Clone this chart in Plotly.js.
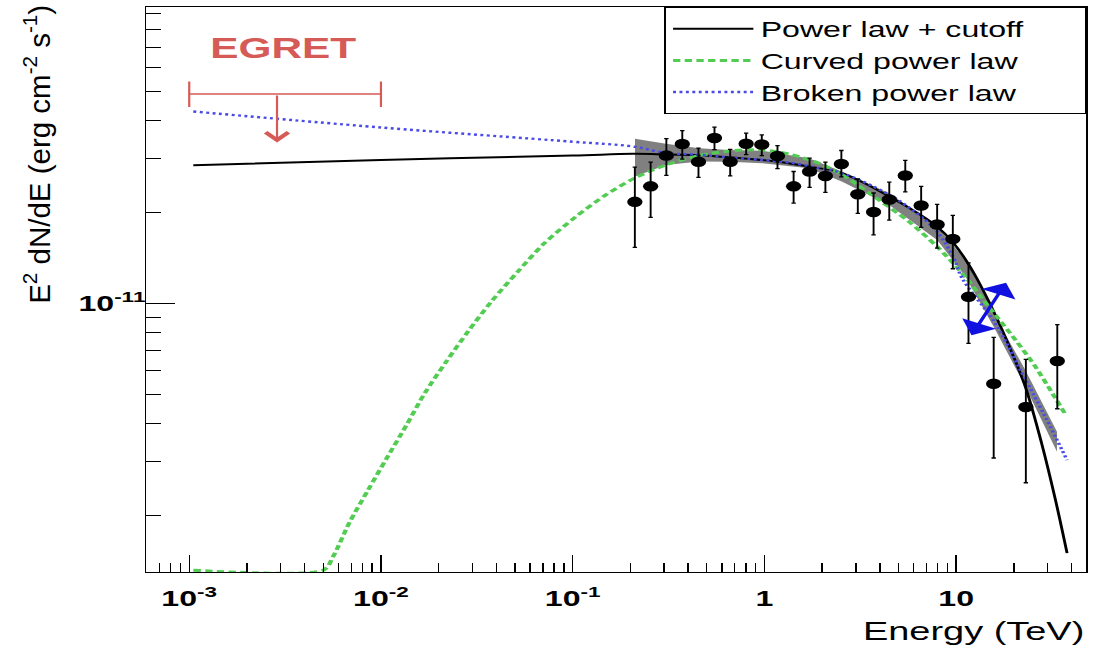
<!DOCTYPE html>
<html><head><meta charset="utf-8">
<script src="https://cdn.plot.ly/plotly-3.0.1.min.js"></script>
<style>
html,body{margin:0;padding:0;background:#fff;overflow:hidden;}
#plot{width:750px;height:648px;transform:scaleX(1.46);transform-origin:0 0;}
</style></head><body><div id="plot"></div>
<script>
const UNIT = 1e-11; // flux values below are in units of 1e-11 erg cm^-2 s^-1

// Measured spectral points (E in TeV)
const pointE  = [0.211, 0.255, 0.308, 0.373, 0.453, 0.549, 0.663, 0.803, 0.969, 1.17, 1.42, 1.72, 2.08, 2.52, 3.07, 3.71, 4.48, 5.43, 6.57, 7.96, 9.61, 11.6, 15.7, 23.1, 33.7];
const pointF  = [2.16, 2.43, 3.07, 3.35, 2.93, 3.51, 2.93, 3.36, 3.34, 3.06, 2.43, 2.72, 2.63, 2.88, 2.29, 2.00, 2.20, 2.64, 2.10, 1.82, 1.63, 1.05, 0.543, 0.455, 0.645];
const pointHi = [2.81, 2.92, 3.49, 3.71, 3.25, 3.81, 3.22, 3.64, 3.59, 3.31, 2.72, 3.01, 2.92, 3.19, 2.57, 2.31, 2.51, 2.96, 2.43, 2.12, 1.95, 1.36, 0.772, 0.653, 0.850];
const pointLo = [1.53, 1.92, 2.64, 2.99, 2.60, 3.21, 2.63, 3.09, 3.07, 2.78, 2.14, 2.41, 2.32, 2.61, 1.98, 1.68, 1.88, 2.33, 1.78, 1.52, 1.30, 0.738, 0.309, 0.256, 0.449];

// Power law + cutoff
const plcE = [0.00105, 0.01, 0.1, 0.205, 0.3, 0.45, 0.66, 1.17, 1.72, 2.52, 4.48, 6.57, 7.96, 9.61, 11.65, 15.7, 19.5, 23.1, 27.9, 32.9, 37.9];
const plcF = [2.85, 2.97, 3.07, 3.11, 3.10, 3.08, 3.03, 2.93, 2.82, 2.69, 2.25, 1.95, 1.79, 1.59, 1.34, 0.94, 0.69, 0.525, 0.346, 0.226, 0.150];

// Curved power law (runs along the bottom of the frame below ~5e-3 TeV)
const cplE = [0.00105, 0.00499, 0.00562, 0.00687, 0.00856, 0.0107, 0.0136, 0.0169, 0.0219, 0.0284, 0.0376, 0.0517, 0.0712, 0.104, 0.149, 0.211, 0.307, 0.457, 0.663, 0.976, 1.40, 1.93, 2.55, 3.96, 5.67, 7.96, 10.75, 14.8, 20.4, 25.9, 37.1];
const cplF = [0.1318, 0.1318, 0.146, 0.190, 0.242, 0.308, 0.397, 0.505, 0.642, 0.806, 1.012, 1.271, 1.578, 1.931, 2.278, 2.59, 2.86, 3.07, 3.18, 3.205, 3.086, 2.897, 2.651, 2.192, 1.859, 1.537, 1.256, 0.9745, 0.757, 0.618, 0.431];

// Broken power law
const bplE = [0.00105, 0.01, 0.1, 0.205, 0.307, 0.457, 0.663, 0.976, 1.40, 1.93, 2.52, 4.48, 6.57, 7.96, 9.61, 10.75, 16.0, 22.1, 29.2, 37.9];
const bplF = [4.29, 3.80, 3.41, 3.29, 3.13, 3.09, 3.02, 2.97, 2.90, 2.79, 2.69, 2.28, 1.93, 1.72, 1.43, 1.21, 0.859, 0.588, 0.422, 0.304];

// Confidence band
const bandE  = [0.2113, 0.3065, 0.4571, 0.6548, 0.976, 1.709, 2.530, 4.48, 7.962, 11.19, 16.04, 22.99, 33.57];
const bandHi = [3.485, 3.355, 3.247, 3.205, 3.182, 3.010, 2.719, 2.307, 1.790, 1.390, 0.903, 0.602, 0.377];
const bandLo = [2.617, 2.860, 2.934, 2.927, 2.897, 2.790, 2.519, 2.111, 1.618, 1.224, 0.816, 0.5305, 0.3237];

// EGRET upper limit
const egretE = [0.001, 0.01];
const egretF = 4.90;
const egretCapHi = 5.39;
const egretCapLo = 4.44;
const egretArrowE = 0.00287;
const egretArrowTipF = 3.39;
const egretLabelE = 0.00309;
const egretLabelF = 6.94;

// Blue double arrow (E, F)
const blueArrowE = [11.89, 18.21];
const blueArrowF = [0.776, 1.169];

// Axis ticks
const xTickVals = [0.001, 0.01, 0.1, 1, 10];
const xTickText = ['10<sup>-3</sup>', '10<sup>-2</sup>', '10<sup>-1</sup>', '1', '10'];
const yTickVals = [1e-11];
const yTickText = ['10<sup>-11</sup>'];

const xMinor = [];
for (let d = -4; d <= 1; d++) for (let m = 2; m <= 9; m++) xMinor.push(m * Math.pow(10, d));
const yMinor = [];
for (let d = -12; d <= -11; d++) for (let m = 2; m <= 9; m++) yMinor.push(m * Math.pow(10, d));

const FONT = 'Liberation Sans, Arial, Helvetica, sans-serif';
const RED = '#d65a55';
const PAD = '\u00A0\u00A0\u00A0\u00A0\u00A0\u00A0';
const sc = a => a.map(v => v * UNIT);

const traces = [
  { // band
    x: bandE.concat(bandE.slice().reverse()),
    y: sc(bandHi.concat(bandLo.slice().reverse())),
    mode: 'lines', fill: 'toself', fillcolor: '#808080',
    line: {width: 0, color: '#808080'}, showlegend: false, hoverinfo: 'skip'
  },
  {
    x: plcE, y: sc(plcF), mode: 'lines', name: 'Power law + cutoff' + PAD, legendgroup: 'a',
    line: {color: 'black', width: 2, shape: 'spline', smoothing: 1}
  },
  {
    x: cplE, y: sc(cplF), mode: 'lines', name: 'Curved power law', legendgroup: 'b',
    line: {color: '#52cc52', width: 3, dash: '5px,3px', shape: 'spline', smoothing: 0.8}
  },
  {
    x: bplE, y: sc(bplF), mode: 'lines', name: 'Broken power law', legendgroup: 'c',
    line: {color: '#4a4ae8', width: 2.4, dash: '2px,2.4px', shape: 'spline', smoothing: 1}
  },
  { // EGRET bar with end caps
    x: egretE, y: sc([egretF, egretF]), mode: 'lines', showlegend: false,
    line: {color: RED, width: 1.6},
    error_y: {type: 'data', symmetric: false,
      array: [egretCapHi - egretF, egretCapHi - egretF].map(v => v * UNIT),
      arrayminus: [egretF - egretCapLo, egretF - egretCapLo].map(v => v * UNIT),
      color: RED, thickness: 1.5, width: 0}
  },
  { // data points
    x: pointE, y: sc(pointF), mode: 'markers', showlegend: false,
    marker: {color: 'black', size: 10.5},
    error_y: {type: 'data', symmetric: false,
      array: pointHi.map((h, i) => (h - pointF[i]) * UNIT),
      arrayminus: pointLo.map((l, i) => (pointF[i] - l) * UNIT),
      color: 'black', thickness: 1.3, width: 1.5}
  }
];

const L = Math.log10;
const layout = {
  width: 750, height: 648,
  margin: {l: 100, r: 5.5, t: 7.3, b: 76.3, pad: 0},
  paper_bgcolor: 'white', plot_bgcolor: 'white',
  font: {family: FONT, color: 'black'},
  xaxis: {
    type: 'log', range: [-3.2255, 1.6786], showgrid: false, zeroline: false,
    showline: true, mirror: true, linecolor: 'black', linewidth: 1,
    ticks: 'inside', ticklen: 17, tickwidth: 1, tickcolor: 'black',
    tickmode: 'array', tickvals: xTickVals, ticktext: xTickText,
    tickfont: {family: FONT, size: 22, color: 'black', weight: 'bold'},
    ticklabelstandoff: 7,
    minor: {tickmode: 'array', tickvals: xMinor, ticks: 'inside', ticklen: 9, tickwidth: 1, tickcolor: 'black', showgrid: false}
  },
  yaxis: {
    type: 'log', range: [-11.886, -10.023], showgrid: false, zeroline: false,
    showline: true, mirror: true, linecolor: 'black', linewidth: 1,
    ticks: 'inside', ticklen: 20, tickwidth: 1, tickcolor: 'black',
    tickmode: 'array', tickvals: yTickVals, ticktext: yTickText,
    tickfont: {family: FONT, size: 22, color: 'black', weight: 'bold'},
    ticklabelstandoff: -5,
    minor: {tickmode: 'array', tickvals: yMinor, ticks: 'inside', ticklen: 10, tickwidth: 1, tickcolor: 'black', showgrid: false}
  },
  showlegend: true,
  legend: {
    x: 1, xanchor: 'right', y: 1, yanchor: 'top',
    bgcolor: 'white', bordercolor: 'black', borderwidth: 1,
    font: {family: FONT, size: 22, color: 'black'},
    itemwidth: 55, traceorder: 'grouped', tracegroupgap: 0
  },
  annotations: [
    {xref: 'paper', yref: 'paper', x: -0.117, y: 1.0076, xanchor: 'center', yanchor: 'top',
     textangle: -90, showarrow: false,
     text: 'E<sup>2</sup> dN/dE (erg cm<sup>-2</sup> s<sup>-1</sup>)',
     font: {family: FONT, size: 29.5, color: 'black'}},
    {xref: 'paper', yref: 'paper', x: 1.0014, y: -0.074, xanchor: 'right', yanchor: 'top',
     showarrow: false, text: 'Energy (TeV)', font: {family: FONT, size: 26, color: 'black'}},
    {xref: 'x', yref: 'y', x: L(egretLabelE), y: L(egretLabelF * UNIT), showarrow: false,
     text: 'EGRET', font: {family: FONT, size: 29, color: RED, weight: 'bold'}},
    {xref: 'x', yref: 'y', axref: 'x', ayref: 'y',
     x: L(egretArrowE), y: L(egretArrowTipF * UNIT), ax: L(egretArrowE), ay: L(egretF * UNIT),
     text: '', showarrow: true, arrowhead: 4, arrowsize: 2, arrowwidth: 1.5, arrowcolor: RED, standoff: 0, startstandoff: 0},
    {xref: 'x', yref: 'y', axref: 'x', ayref: 'y',
     x: L(blueArrowE[1]), y: L(blueArrowF[1] * UNIT), ax: L(blueArrowE[0]), ay: L(blueArrowF[0] * UNIT),
     text: '', showarrow: true, arrowhead: 1, arrowside: 'end+start', arrowsize: 1.7, arrowwidth: 2.5, arrowcolor: '#1010e0', standoff: 0, startstandoff: 0}
  ]
};

Plotly.newPlot('plot', traces, layout, {displayModeBar: false, staticPlot: true}).then(() => {
  const g = document.querySelector('#plot .annotation[data-index="0"]');
  if (g) {
    g.style.transformBox = 'fill-box';
    g.style.transformOrigin = 'center';
    g.style.transform = 'scaleX(0.7)';
  }
});
</script>
</body></html>
